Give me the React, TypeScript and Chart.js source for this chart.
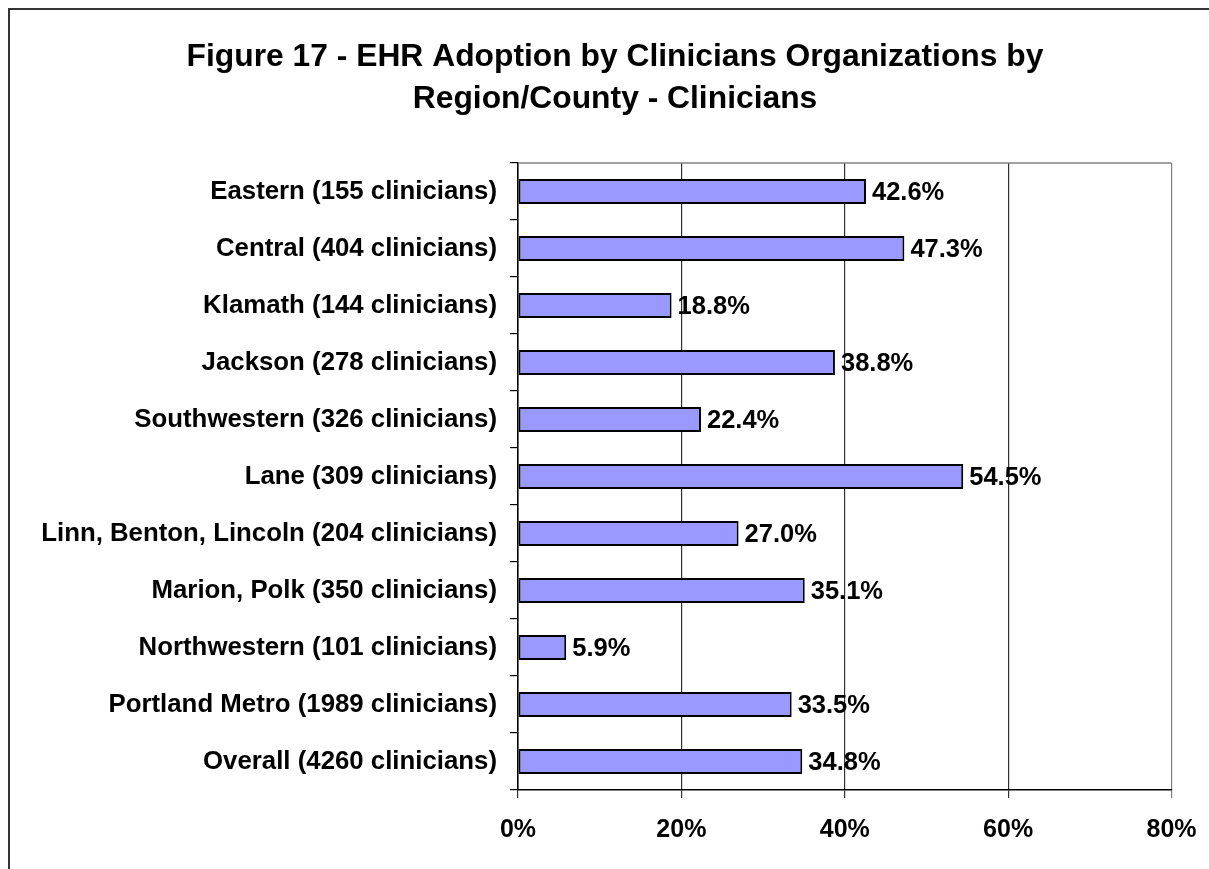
import React, { useEffect, useRef } from "react";
import { Chart, registerables } from "chart.js";

Chart.register(...registerables);

const titleLines = [
  "Figure 17 - EHR Adoption by Clinicians Organizations by",
  "Region/County - Clinicians",
];

const categories = [
  "Eastern (155 clinicians)",
  "Central (404 clinicians)",
  "Klamath (144 clinicians)",
  "Jackson (278 clinicians)",
  "Southwestern (326 clinicians)",
  "Lane (309 clinicians)",
  "Linn, Benton, Lincoln (204 clinicians)",
  "Marion, Polk (350 clinicians)",
  "Northwestern (101 clinicians)",
  "Portland Metro (1989 clinicians)",
  "Overall (4260 clinicians)",
];

const adoptionPct = [42.6, 47.3, 18.8, 38.8, 22.4, 54.5, 27.0, 35.1, 5.9, 33.5, 34.8];

const xTickValues = [0, 20, 40, 60, 80];

const FONT = "'Liberation Sans', Arial, Helvetica, sans-serif";

const framePlugin = {
  id: "frame",
  beforeDraw(chart: any) {
    const ctx = chart.ctx;
    ctx.save();
    ctx.fillStyle = "#ffffff";
    ctx.fillRect(0, 0, chart.width, chart.height);
    ctx.strokeStyle = "#333333";
    ctx.lineWidth = 2;
    ctx.strokeRect(9, 9, chart.width + 50, chart.height + 50);
    ctx.restore();
  },
};

const titlePlugin = {
  id: "customTitle",
  afterDraw(chart: any) {
    const ctx = chart.ctx;
    ctx.save();
    ctx.fillStyle = "#000000";
    ctx.font = `bold 31.8px ${FONT}`;
    ctx.textAlign = "center";
    ctx.textBaseline = "alphabetic";
    ctx.fillText(titleLines[0], 615, 66);
    ctx.fillText(titleLines[1], 615, 108);
    ctx.restore();
  },
};

const plotBorderPlugin = {
  id: "plotBorder",
  beforeDatasetsDraw(chart: any) {
    const { ctx, chartArea } = chart;
    ctx.save();
    ctx.strokeStyle = "#808080";
    ctx.lineWidth = 1.5;
    ctx.beginPath();
    ctx.moveTo(chartArea.left, chartArea.top);
    ctx.lineTo(chartArea.right, chartArea.top);
    ctx.stroke();
    ctx.restore();
  },
};

const valueLabelPlugin = {
  id: "valueLabels",
  afterDatasetsDraw(chart: any) {
    const ctx = chart.ctx;
    const meta = chart.getDatasetMeta(0);
    const data = chart.data.datasets[0].data as number[];
    ctx.save();
    ctx.fillStyle = "#000000";
    ctx.font = `bold 25.5px ${FONT}`;
    ctx.textAlign = "left";
    ctx.textBaseline = "middle";
    meta.data.forEach((bar: any, i: number) => {
      ctx.fillText(`${data[i].toFixed(1)}%`, bar.x + 6, bar.y + 1);
    });
    ctx.restore();
  },
};

export default function App() {
  const canvasRef = useRef<HTMLCanvasElement | null>(null);

  useEffect(() => {
    if (!canvasRef.current) return;
    const chart = new Chart(canvasRef.current, {
      type: "bar",
      data: {
        labels: categories,
        datasets: [
          {
            data: adoptionPct,
            backgroundColor: "#9999FF",
            borderColor: "#000000",
            borderWidth: 2,
            borderSkipped: false,
            barPercentage: 0.44,
            categoryPercentage: 1,
          },
        ],
      },
      options: {
        indexAxis: "y",
        animation: false,
        responsive: false,
        maintainAspectRatio: false,
        devicePixelRatio: 1,
        layout: { padding: { left: 0, right: 37.5, top: 163, bottom: 0 } },
        plugins: {
          legend: { display: false },
          title: { display: false },
          tooltip: { enabled: false },
        },
        scales: {
          x: {
            type: "linear",
            position: "bottom",
            min: 0,
            max: 80,
            afterBuildTicks(scale: any) {
              scale.ticks = xTickValues.map((v) => ({ value: v }));
            },
            afterFit(scale: any) {
              scale.height = 79;
              scale.paddingLeft = 0;
              scale.paddingRight = 0;
            },
            ticks: {
              color: "#000000",
              font: { family: FONT, size: 25, weight: "bold" },
              padding: 17,
              maxRotation: 0,
              callback: (v: any) => `${v}%`,
            },
            grid: {
              display: true,
              drawOnChartArea: true,
              drawTicks: true,
              tickLength: 8,
              lineWidth: 1.2,
              color: (c: any) =>
                c.tick && c.tick.value === 80 ? "#808080" : "#333333",
            },
            border: { display: true, color: "#000000", width: 1.5 },
          },
          y: {
            type: "category",
            position: "left",
            afterFit(scale: any) {
              scale.width = 518;
              scale.paddingTop = 0;
              scale.paddingBottom = 0;
            },
            ticks: {
              color: "#000000",
              font: { family: FONT, size: 25.8, weight: "bold" },
              padding: 13,
              autoSkip: false,
            },
            grid: {
              display: true,
              offset: true,
              drawOnChartArea: false,
              drawTicks: true,
              tickLength: 8,
              color: "#000000",
              lineWidth: 1.2,
            },
            border: { display: true, color: "#000000", width: 1.5 },
          },
        },
      },
      plugins: [framePlugin, plotBorderPlugin, valueLabelPlugin, titlePlugin],
    } as any);
    return () => chart.destroy();
  }, []);

  return (
    <div
      style={{
        position: "fixed",
        left: 0,
        top: 0,
        width: 1209,
        height: 869,
        overflow: "hidden",
        background: "#ffffff",
      }}
    >
      <canvas
        ref={canvasRef}
        width={1209}
        height={869}
        style={{ width: 1209, height: 869, display: "block" }}
      />
    </div>
  );
}
